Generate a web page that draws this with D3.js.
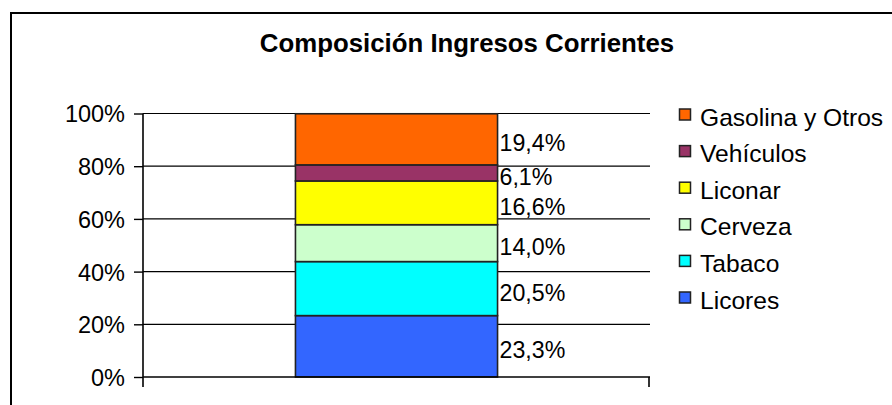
<!DOCTYPE html>
<html><head><meta charset="utf-8">
<script src="https://cdn.jsdelivr.net/npm/d3@7"></script>
<style>body{margin:0;background:#fff}svg{display:block;font-family:"Liberation Sans",Arial,sans-serif}</style>
</head><body>
<svg id="c" width="892" height="405"></svg>
<script>
const title = "Composición Ingresos Corrientes";
const category = ["Composición"];
const seriesNames = ["Licores", "Tabaco", "Cerveza", "Liconar", "Vehículos", "Gasolina y Otros"];
const seriesValues = [23.3, 20.5, 14.0, 16.6, 6.1, 19.4];
const seriesColors = ["#3366FF", "#00FFFF", "#CCFFCC", "#FFFF00", "#993366", "#FF6600"];
const yTicks = [0, 20, 40, 60, 80, 100];

const svg = d3.select("#c");
svg.append("rect").attr("x", 11).attr("y", 13).attr("width", 900).attr("height", 420)
  .attr("fill", "#fff").attr("stroke", "#000").attr("stroke-width", 2);

svg.append("text").attr("x", 467).attr("y", 52).attr("text-anchor", "middle")
  .attr("font-weight", "bold").attr("font-size", 25.8).text(title);

const x = d3.scaleBand().domain(category).range([143, 650]).padding(0.43);
const y = d3.scaleLinear().domain([0, 100]).range([377, 113.5]);

// gridlines
svg.append("g").selectAll("line").data(yTicks.filter(d => d > 0)).join("line")
  .attr("x1", 143).attr("x2", 650).attr("y1", d => y(d)).attr("y2", d => y(d))
  .attr("stroke", "#000").attr("stroke-width", 1.2);

// stacked bar
let cum = 0;
const segs = seriesValues.map((v, i) => { const s = {name: seriesNames[i], v, y0: cum, y1: cum + v, c: seriesColors[i]}; cum += v; return s; });
const g = svg.append("g");
g.selectAll("rect").data(segs).join("rect")
  .attr("x", x(category[0])).attr("width", x.bandwidth())
  .attr("y", d => y(d.y1)).attr("height", d => y(d.y0) - y(d.y1))
  .attr("fill", d => d.c).attr("stroke", "#222").attr("stroke-width", 1.6);

// labels
g.selectAll("text").data(segs).join("text")
  .attr("x", x(category[0]) + x.bandwidth() + 2)
  .attr("y", d => (y(d.y0) + y(d.y1)) / 2 + 4)
  .attr("dominant-baseline", "central")
  .attr("font-size", 23.2).attr("fill", "#000")
  .text(d => d.v.toFixed(1).replace(".", ",") + "%");

// y axis
const ya = svg.append("g").attr("transform", "translate(143,0)")
  .call(d3.axisLeft(y).tickValues(yTicks).tickSize(9).tickPadding(9).tickFormat(d => d + "%"));
ya.select(".domain").remove();
ya.selectAll("line").attr("stroke", "#000").attr("stroke-width", 1.4);
ya.selectAll("text").attr("font-size", 23.5).attr("fill", "#000").attr("font-family", "Liberation Sans, Arial, sans-serif").attr("dy", "0.36em");
svg.append("line").attr("x1", 143).attr("x2", 143).attr("y1", y(100)).attr("y2", y(0) + 10)
  .attr("stroke", "#000").attr("stroke-width", 1.6);
// x axis
svg.append("line").attr("x1", 143).attr("x2", 650).attr("y1", y(0)).attr("y2", y(0))
  .attr("stroke", "#000").attr("stroke-width", 1.6);
svg.append("line").attr("x1", 649).attr("x2", 649).attr("y1", y(0)).attr("y2", y(0) + 10)
  .attr("stroke", "#000").attr("stroke-width", 1.6);

// legend
const legendOrder = seriesNames.map((n, i) => ({n, c: seriesColors[i]})).reverse();
const lg = svg.append("g");
const ly = d3.scalePoint().domain(legendOrder.map(d => d.n)).range([117, 300]);
lg.selectAll("rect").data(legendOrder).join("rect")
  .attr("x", 679.5).attr("y", d => ly(d.n) - 8).attr("width", 11).attr("height", 11)
  .attr("fill", d => d.c).attr("stroke", "#222").attr("stroke-width", 1.5);
lg.selectAll("text").data(legendOrder).join("text")
  .attr("x", 700).attr("y", d => ly(d.n)).attr("dominant-baseline", "central")
  .attr("font-size", 24.6).attr("fill", "#000").text(d => d.n);
</script>
</body></html>
